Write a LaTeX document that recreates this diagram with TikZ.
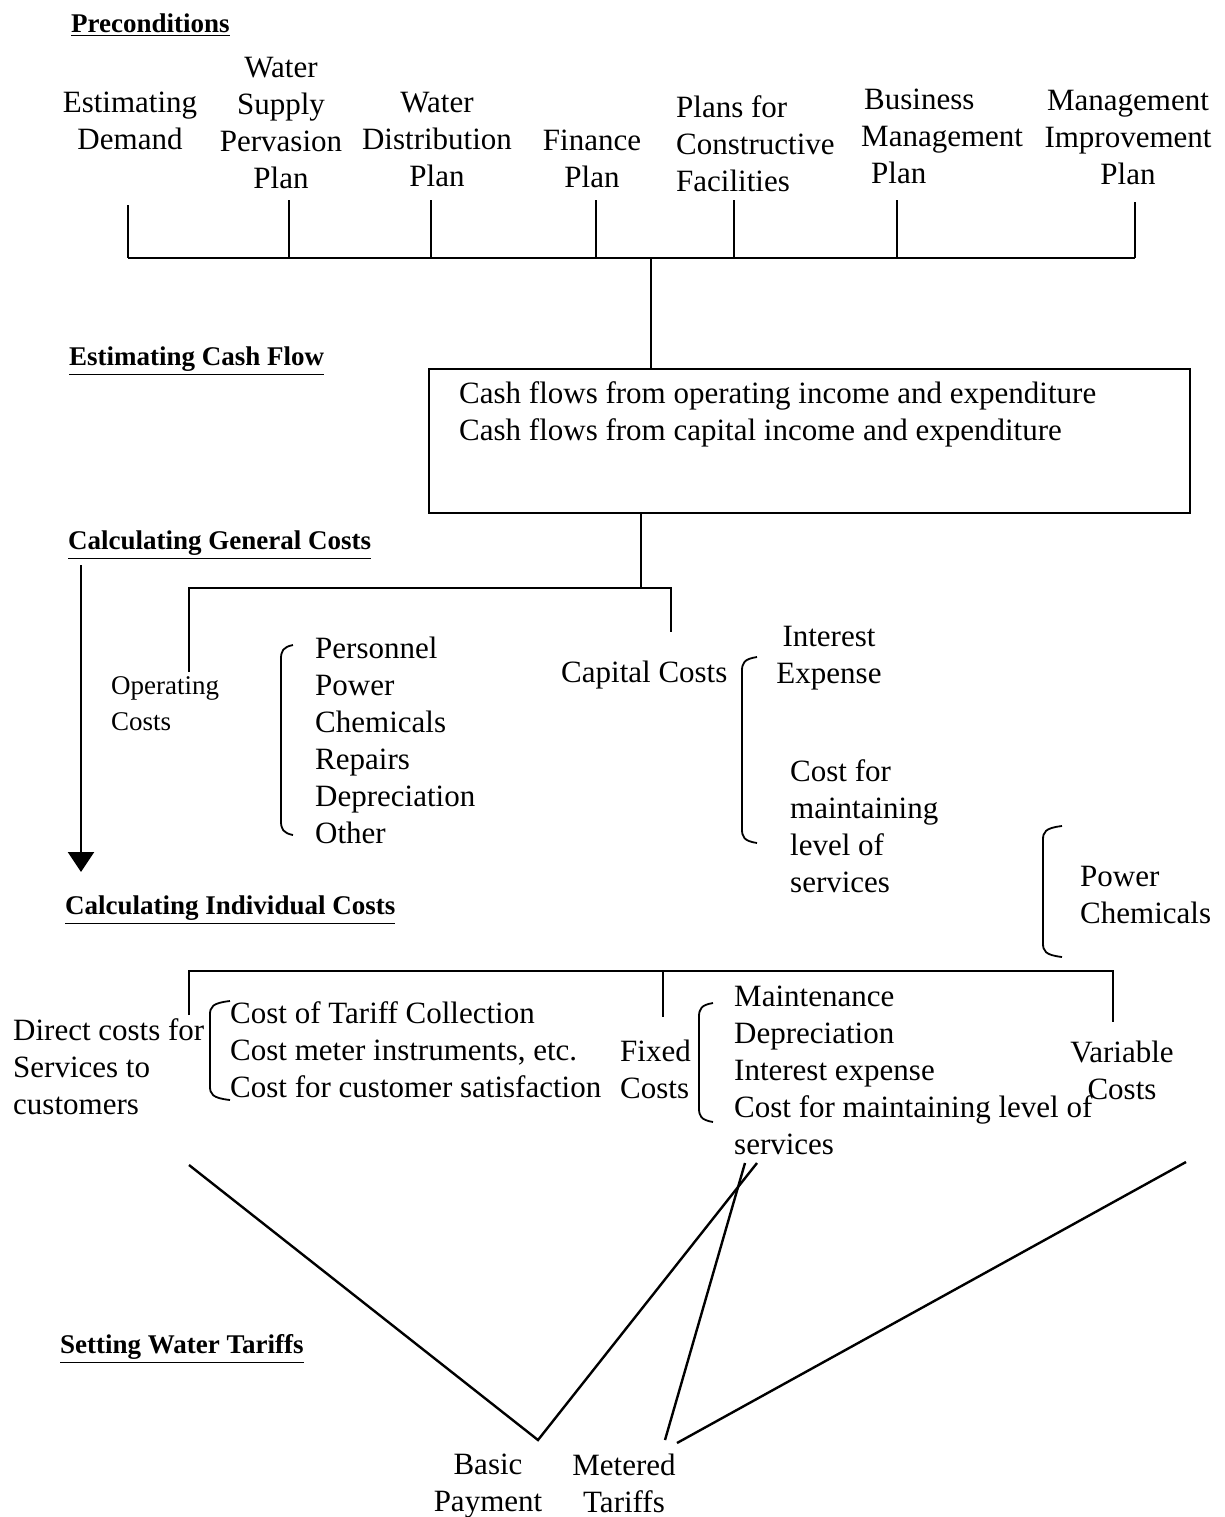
\documentclass[tikz,border=0pt]{standalone}
\usepackage{fontspec}
\setmainfont{Liberation Serif}
\usetikzlibrary{arrows.meta, positioning}

% bracket drawn as a long flat parenthesis
\newcommand{\flatbrace}[4]{%
  \draw[brace] (#2,#3) .. controls ({#1+2},{#3+2}) and (#1,{#3+6}) .. (#1,{#3+14})
    -- (#1,{#4-14}) .. controls (#1,{#4-6}) and ({#1+2},{#4-2}) .. (#2,#4);}

\begin{document}
\begin{tikzpicture}[
    x=0.5pt, y=-0.5pt,
    line width=1.2pt,
    txt/.style={font=\fontsize{15.5}{18.5}\selectfont, inner sep=0pt},
    small/.style={font=\fontsize{13.5}{18}\selectfont, inner sep=0pt},
    head/.style={font=\fontsize{13.5}{18}\selectfont\bfseries, inner sep=0pt, anchor=west},
    brace/.style={line width=0.9pt},
    cashbox/.style={draw, line width=1pt, minimum width=380.5pt, minimum height=72pt, anchor=north west}
  ]
  \useasboundingbox (0,0) rectangle (1225,1517);

  % --- HEADINGS ---
  \node[head] (hPre) at (70,25) {\underline{Preconditions}};
  \node[head] (hCash) at (68,361) {\underline{Estimating Cash Flow}};
  \node[head] (hGen) at (67,545) {\underline{Calculating General Costs}};
  \node[head] (hInd) at (64,910) {\underline{Calculating Individual Costs}};
  \node[head] (hTar) at (59,1349) {\underline{Setting Water Tariffs}};

  % --- PRECONDITIONS ---
  \node[txt, align=center] (dem) at (130,121) {Estimating\\Demand};
  \node[txt, align=center] (sup) at (281,123) {Water\\Supply\\Pervasion\\Plan};
  \node[txt, align=center] (dist) at (437,139) {Water\\Distribution\\Plan};
  \node[txt, align=center] (fin) at (592,159) {Finance\\Plan};
  \node[txt, align=left, anchor=west] (cons) at (675,144) {Plans for\\Constructive\\Facilities};
  \node[txt, align=left, anchor=west] (bmp) at (860,136) {\hspace*{1.5pt}Business\\Management\\\hspace*{5pt}Plan};
  \node[txt, align=center] (mip) at (1128,137) {Management\\Improvement\\Plan};

  \foreach \x/\y [count=\i] in {128/205, 289/200, 431/200, 596/200, 734/200, 897/200, 1135/202} {
    \coordinate (tk\i) at (\x,\y);
    \coordinate (bs\i) at (\x,258);
    \draw (tk\i) -- (bs\i);
  }
  \draw (bs1) -- (bs7);

  % --- CASH FLOW ---
  \node[cashbox] (cash) at (428,368) {};
  \node[txt, align=left, anchor=north west] (cashtxt) at ([shift={(30,12)}]cash.north west)
    {Cash flows from operating income and expenditure\\Cash flows from capital income and expenditure};
  \coordinate (jn1) at (651,258);
  \draw (jn1) -- (jn1 |- cash.north);

  % --- GENERAL COSTS ---
  \coordinate (jn2) at (641,588);
  \coordinate (g1) at (189,588);
  \coordinate (g1e) at (189,672);
  \coordinate (g2) at (671,588);
  \coordinate (g2e) at (671,632);
  \draw (cash.south -| jn2) -- (jn2);
  \draw (g1e) -- (g1) -- (g2) -- (g2e);

  \coordinate (arrS) at (81,565);
  \coordinate (arrE) at (81,872);
  \draw[-{Triangle[width=13pt, length=10pt]}] (arrS) -- (arrE);

  \node[small, align=left, anchor=west] (op) at (110,704) {Operating\\Costs};
  \flatbrace{281}{293}{645}{835}
  \node[txt, align=left, anchor=west] (opItems) at (314,740)
    {Personnel\\Power\\Chemicals\\Repairs\\Depreciation\\Other};

  \node[txt, anchor=west] (cap) at (560,675) {Capital Costs};
  \flatbrace{742}{757}{657}{843}
  \node[txt, align=center] (intr) at (829,658) {Interest\\Expense};
  \node[txt, align=left, anchor=west] (cmain) at (789,826) {Cost for\\maintaining\\level of\\services};

  \flatbrace{1043}{1062}{826}{957}
  \node[txt, align=left, anchor=west] (pc) at (1079,895) {Power\\Chemicals};

  % --- INDIVIDUAL COSTS ---
  \coordinate (i1) at (189,971);
  \coordinate (i1e) at (189,1015);
  \coordinate (i2) at (663,971);
  \coordinate (i2e) at (663,1017);
  \coordinate (i3) at (1113,971);
  \coordinate (i3e) at (1113,1022);
  \draw (i1e) -- (i1) -- (i3) -- (i3e);
  \draw (i2) -- (i2e);

  \node[txt, align=left, anchor=west] (dc) at (12,1067) {Direct costs for\\Services to\\customers};
  \flatbrace{210}{230}{1001}{1100}
  \node[txt, align=left, anchor=west] (dcItems) at (229,1050)
    {Cost of Tariff Collection\\Cost meter instruments, etc.\\Cost for customer satisfaction};

  \node[txt, align=left, anchor=west] (fc) at (619,1069) {Fixed\\Costs};
  \flatbrace{699}{713}{1003}{1122}
  \node[txt, align=left, anchor=west] (fcItems) at (733,1070)
    {Maintenance\\Depreciation\\Interest expense\\Cost for maintaining level of\\services};

  \node[txt, align=center] (vc) at (1122,1070) {Variable\\Costs};

  % --- WATER TARIFFS ---
  \node[txt, align=center] (bp) at (488,1486) {Basic\\Payment};
  \node[txt, align=center] (mt) at (624,1483) {Metered\\Tariffs};

  \coordinate (dcEnd) at (189,1165);
  \coordinate (fcEnd1) at (757,1163);
  \coordinate (fcEnd2) at (745,1163);
  \coordinate (vcEnd) at (1186,1162);
  \coordinate (bpTip) at (538,1440);
  \coordinate (mtTip1) at (665,1440);
  \coordinate (mtTip2) at (677,1443);

  \draw (dcEnd) -- (bpTip) -- (fcEnd1);
  \draw (fcEnd2) -- (mtTip1);
  \draw (mtTip2) -- (vcEnd);
\end{tikzpicture}
\end{document}
